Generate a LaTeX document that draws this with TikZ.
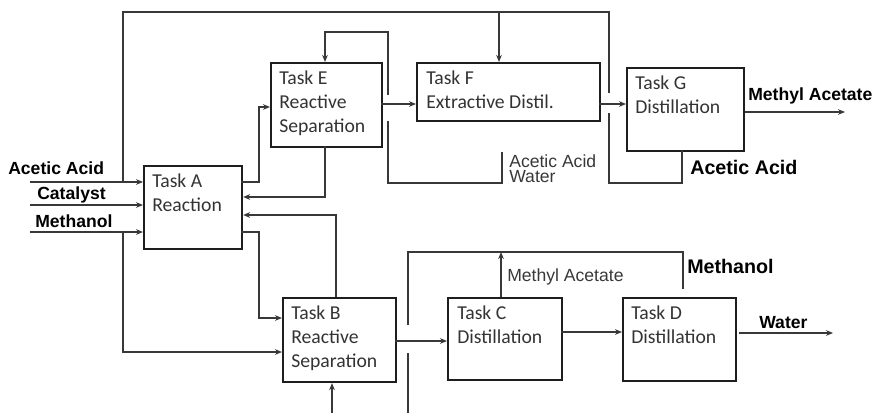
\documentclass[tikz,border=0pt]{standalone}
\usepackage{fontspec}
\setmainfont{Carlito}
\newfontfamily\arialfont{Liberation Sans}
\usetikzlibrary{calc,arrows.meta}
\definecolor{boxline}{HTML}{1E1E1E}
\definecolor{flow}{HTML}{383838}
\definecolor{boxtext}{HTML}{333333}
\begin{document}
\begin{tikzpicture}[x=0.025cm,y=-0.025cm,
  taskbox/.style={draw=boxline, line width=1.5pt, anchor=north west, inner sep=0pt},
  tasktext/.style={anchor=north west, inner sep=0pt, align=left, text=boxtext,
    font=\fontsize{14}{17}\selectfont},
  flowline/.style={draw=flow, line width=0.9pt},
  arr/.style={flowline, -{Stealth[length=5pt,width=4pt]}},
  streamb/.style={font=\arialfont\bfseries\fontsize{12.5}{14}\selectfont,
    text=black, inner sep=0pt, anchor=base west},
  streambig/.style={streamb, font=\arialfont\bfseries\fontsize{14}{16}\selectfont},
  streamr/.style={font=\arialfont\fontsize{12.5}{11}\selectfont, text=flow,
    inner sep=0pt, align=left},
]
\useasboundingbox (0,0) rectangle (880,413);

% ---- task boxes ----
\node[taskbox, minimum width=2.45cm,  minimum height=2.075cm] (A) at (143,165) {};
\node[taskbox, minimum width=2.775cm, minimum height=2.1cm]   (E) at (270,62) {};
\node[taskbox, minimum width=4.575cm, minimum height=1.45cm]  (F) at (416,62) {};
\node[taskbox, minimum width=2.925cm, minimum height=2.075cm] (G) at (626,67) {};
\node[taskbox, minimum width=2.825cm, minimum height=2.1cm]   (B) at (282,297) {};
\node[taskbox, minimum width=2.85cm,  minimum height=2.05cm]  (C) at (447,297) {};
\node[taskbox, minimum width=2.825cm, minimum height=2.075cm] (D) at (622,297) {};

\node[tasktext] (At) at ($(A.north west)+(9,9)$) {Task A\\Reaction};
\node[tasktext] (Et) at ($(E.north west)+(9,9)$) {Task E\\Reactive\\Separation};
\node[tasktext] (Ft) at ($(F.north west)+(10,9)$) {Task F\\Extractive Distil.};
\node[tasktext] (Gt) at ($(G.north west)+(9,9)$) {Task G\\Distillation};
\node[tasktext] (Bt) at ($(B.north west)+(9,9)$) {Task B\\Reactive\\Separation};
\node[tasktext] (Ct) at ($(C.north west)+(10,9)$) {Task C\\Distillation};
\node[tasktext] (Dt) at ($(D.north west)+(9,9)$) {Task D\\Distillation};

% ---- feed streams ----
\coordinate (aaIn) at (30,182);
\coordinate (catIn) at (30,205);
\coordinate (meIn) at (30,232);
\draw[arr] (aaIn) -- (aaIn -| A.west);
\draw[arr] (catIn) -- (catIn -| A.west);
\draw[arr] (meIn) -- (meIn -| A.west);
\node[streamb] (laa) at (8,175) {Acetic Acid};
\node[streamb] (lcat) at (37,199) {Catalyst};
\node[streamb] (lme) at (35,227) {Methanol};

% ---- top bypass loop ----
\coordinate (aaJ) at (123,182);
\coordinate (topL) at (123,12);
\coordinate (topR) at (609,12);
\coordinate (fgUp) at (609,93);
\coordinate (fFeed) at (499,12);
\draw[flowline] (aaJ) -- (topL) -- (topR) -- (fgUp);
\draw[arr] (fFeed) -- (fFeed |- F.north);

% ---- methanol bypass to B ----
\coordinate (meJ) at (123,232);
\coordinate (meB) at (123,352);
\draw[arr] (meJ) -- (meB) -- (meB -| B.west);

% ---- A <-> E ----
\coordinate (aeOut) at (241,182);
\coordinate (aeK) at (259,107);
\draw[arr] (aeOut) -| (aeK) -- (aeK -| E.west);
\coordinate (eBot) at (325,146);
\coordinate (eBotK) at (325,197);
\draw[arr] (eBot) -- (eBotK) -- (eBotK -| A.east);

% ---- E column streams ----
\coordinate (eTopA) at (388,95);
\coordinate (eTopB) at (388,32);
\coordinate (eTopC) at (325,32);
\draw[arr] (eTopA) -- (eTopB) -- (eTopC) -- (eTopC |- E.north);
\coordinate (efOut) at (381,104);
\draw[arr] (efOut) -- (efOut -| F.west);
\coordinate (eLowA) at (388,121);
\coordinate (eLowB) at (388,183);
\coordinate (eLowC) at (502,183);
\coordinate (eLowD) at (502,152);
\draw[flowline] (eLowA) -- (eLowB) -- (eLowC) -- (eLowD);
\node[streamr, anchor=north west] (law) at (509,154) {Acetic Acid\\Water};

% ---- F -> G and G products ----
\coordinate (fgOut) at (599,104);
\draw[arr] (fgOut) -- (fgOut -| G.west);
\coordinate (gBot) at (682,150);
\coordinate (gBotK) at (682,183);
\coordinate (gLowK) at (609,183);
\coordinate (gLowUp) at (609,113);
\draw[flowline] (gBot) -- (gBotK) -- (gLowK) -- (gLowUp);
\node[streambig] (lgaa) at (690,175) {Acetic Acid};
\coordinate (maOut) at (845,112);
\draw[arr] (maOut -| G.east) -- (maOut);
\node[streamb] (lma) at (748,101) {Methyl Acetate};

% ---- A <-> B ----
\coordinate (bTop) at (336,297);
\coordinate (bTopK) at (336,215);
\draw[arr] (bTop) -- (bTopK) -- (bTopK -| A.east);
\coordinate (abOut) at (241,232);
\coordinate (abK) at (259,318);
\draw[arr] (abOut) -| (abK) -- (abK -| B.west);

% ---- B column streams ----
\coordinate (bcOut) at (395,341);
\draw[arr] (bcOut) -- (bcOut -| C.west);
\coordinate (bUpA) at (408,325);
\coordinate (bUpB) at (408,252);
\coordinate (bUpC) at (683,252);
\coordinate (bUpD) at (683,289);
\draw[flowline] (bUpA) -- (bUpB) -- (bUpC) -- (bUpD);
\coordinate (cTop) at (501,297);
\draw[arr] (cTop) -- (cTop |- bUpB);
\node[streamr, anchor=base west] (lcma) at (507,281) {Methyl Acetate};
\node[streambig] (lmeo) at (687,273) {Methanol};
\coordinate (bLowA) at (408,353);
\coordinate (bLowB) at (408,413);
\draw[flowline] (bLowA) -- (bLowB);
\coordinate (bIn) at (332,413);
\draw[arr] (bIn) -- (bIn |- B.south);

% ---- C -> D -> water ----
\coordinate (cdOut) at (561,332);
\draw[arr] (cdOut) -- (cdOut -| D.west);
\coordinate (wStart) at (739,333);
\coordinate (wEnd) at (833,333);
\draw[arr] (wStart) -- (wEnd);
\node[streamb] (lw) at (759,328) {Water};

\end{tikzpicture}
\end{document}
